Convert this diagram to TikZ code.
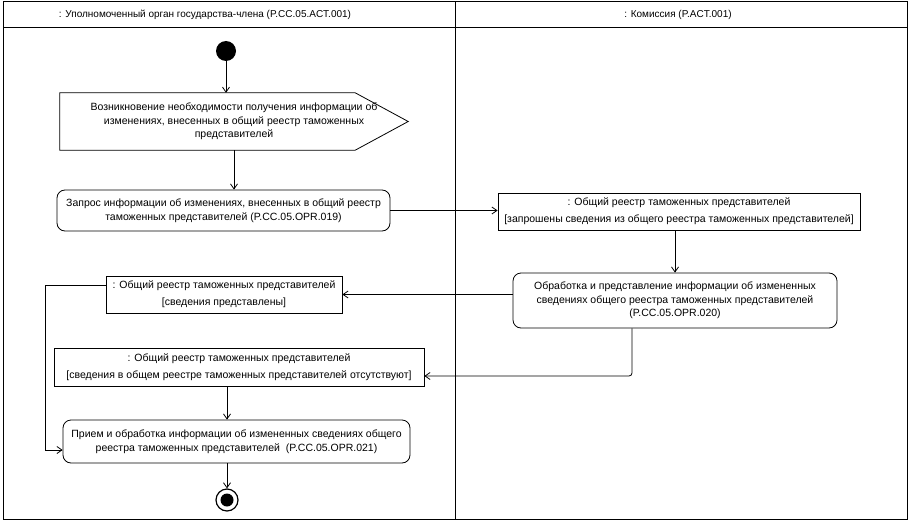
\documentclass[tikz,border=0pt]{standalone}
\usepackage{fontspec}
\setmainfont{Liberation Sans}
\usetikzlibrary{positioning,calc,arrows.meta}

\begin{document}
\begin{tikzpicture}[x=1pt,y=-1pt,font=\fontsize{10.5}{13.5}\selectfont]
    % Define styles
    \tikzstyle{action} = [rectangle, rounded corners=8pt, draw=black, line width=0.8pt, align=center, inner sep=1pt]
    \tikzstyle{object} = [rectangle, draw=black, line width=0.8pt, align=center, inner sep=1pt, font=\fontsize{10.5}{17}\selectfont]
    \tikzstyle{initial} = [circle, fill=black, minimum size=20pt, inner sep=0pt]
    \tikzstyle{final} = [circle, draw=black, line width=1.2pt, minimum size=22pt, inner sep=0pt, path picture={\fill[black] (path picture bounding box.center) circle (6.5pt);}]
    \tikzstyle{arrow} = [line width=0.8pt, -{Straight Barb[length=5pt,width=7pt]}]

    \useasboundingbox (0,0) rectangle (909,524);

    % Swimlanes
    \draw [line width=1pt] (3,2) rectangle (907,519);
    \draw [line width=0.8pt] (3,27) -- (907,27);
    \draw [line width=0.8pt] (455,2) -- (455,519);
    \node (laneA) [font=\fontsize{10}{12}\selectfont] at (205,15) {: Уполномоченный орган государства-члена  (P.CC.05.ACT.001)};
    \node (laneB) [font=\fontsize{10}{12}\selectfont] at (678,15) {: Комиссия (P.ACT.001)};

    % Nodes
    \node (start) [initial] at (226,51) {};
    \node (sig) [minimum width=348pt, minimum height=57pt, align=center] at (234,121.5) {Возникновение необходимости получения информации об\\изменениях, внесенных в общий реестр таможенных\\представителей};
    \draw [line width=0.8pt] (sig.north west) -- ($(sig.north east)+(-53,0)$) -- (sig.east) -- ($(sig.south east)+(-53,0)$) -- (sig.south west) -- cycle;
    \node (act1) [action, minimum width=333pt, minimum height=41pt] at (223.5,210.5) {Запрос информации об изменениях, внесенных в общий реестр\\таможенных представителей (P.CC.05.OPR.019)};
    \node (obj1) [object, minimum width=362pt, minimum height=37pt] at (679,211.5) {: Общий реестр таможенных представителей\\{[}запрошены сведения из общего реестра таможенных представителей{]}};
    \node (act2) [action, minimum width=324pt, minimum height=55pt] at (675,300.5) {Обработка и представление информации об измененных\\сведениях общего реестра таможенных представителей\\(P.CC.05.OPR.020)};
    \node (obj2) [object, minimum width=236pt, minimum height=37pt] at (224,294.5) {: Общий реестр таможенных представителей\\{[}сведения представлены{]}};
    \node (obj3) [object, minimum width=370pt, minimum height=38pt] at (239,367) {: Общий реестр таможенных представителей\\{[}сведения в общем реестре таможенных представителей отсутствуют{]}};
    \node (fin) [action, minimum width=347pt, minimum height=43pt] at (236.5,441.5) {Прием и обработка информации об измененных сведениях общего\\реестра таможенных представителей~~(P.CC.05.OPR.021)};
    \node (end) [final] at (227,500) {};

    \coordinate (loopA) at (45,285);
    \coordinate (loopB) at (45,450);
    \coordinate (bend) at (632,376);

    % Arrows
    \draw [arrow] (start) -- (start |- sig.north);
    \draw [arrow] (sig.south) -- (sig.south |- act1.north);
    \draw [arrow] (act1.east) -- (act1.east -| obj1.west);
    \draw [arrow] (act2.north |- obj1.south) -- (act2.north);
    \draw [arrow] (obj2.east -| act2.west) -- (obj2.east);
    \draw [arrow] (obj2.west |- loopA) -- (loopA) -- (loopB) -- (loopB -| fin.west);
    \draw [arrow, rounded corners=3pt] (act2.south -| bend) -- (bend) -- (bend -| obj3.east);
    \draw [arrow] (obj3.south -| end) -- (fin.north -| end);
    \draw [arrow] (fin.south -| end) -- (end);
\end{tikzpicture}
\end{document}
